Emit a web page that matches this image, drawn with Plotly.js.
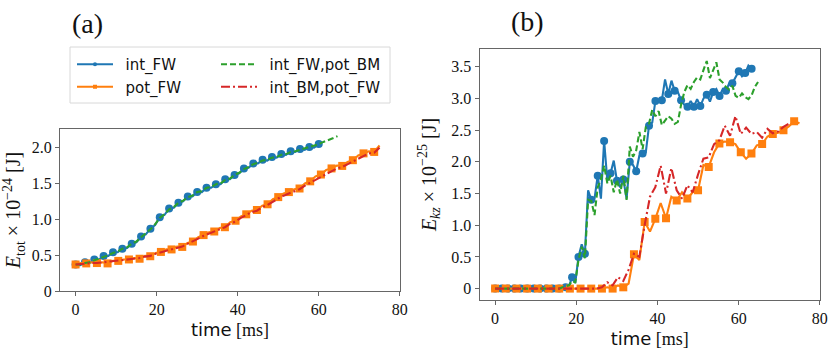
<!DOCTYPE html>
<html>
<head>
<meta charset="utf-8">
<script src="https://cdn.plot.ly/plotly-3.0.1.min.js"></script>
<style>
  body { margin: 0; background: #fff; }
  #chart { width: 830px; height: 349px; }
</style>
</head>
<body>
<div id="chart"></div>
<script>
// time grids [ms]
const tInt = [0, 1.15, 2.31, 3.46, 4.62, 5.77, 6.92, 8.08, 9.23, 10.38, 11.54, 12.69, 13.85, 15.0, 16.15, 17.31, 18.46, 19.62, 20.77, 21.92, 23.08, 24.23, 25.38, 26.54, 27.69, 28.85, 30.0, 31.15, 32.31, 33.46, 34.62, 35.77, 36.92, 38.08, 39.23, 40.38, 41.54, 42.69, 43.85, 45.0, 46.15, 47.31, 48.46, 49.62, 50.77, 51.92, 53.08, 54.23, 55.38, 56.54, 57.69, 58.85, 60.0, 61.15, 62.31, 63.46, 64.62];
const tPot = [0, 1.32, 2.63, 3.95, 5.26, 6.58, 7.89, 9.21, 10.53, 11.84, 13.16, 14.47, 15.79, 17.11, 18.42, 19.74, 21.05, 22.37, 23.68, 25.0, 26.32, 27.63, 28.95, 30.26, 31.58, 32.89, 34.21, 35.53, 36.84, 38.16, 39.47, 40.79, 42.11, 43.42, 44.74, 46.05, 47.37, 48.68, 50.0, 51.32, 52.63, 53.95, 55.26, 56.58, 57.89, 59.21, 60.53, 61.84, 63.16, 64.47, 65.79, 67.11, 68.42, 69.74, 71.05, 72.37, 73.68, 75.0];
const tKz = [0, 0.79, 1.58, 2.37, 3.16, 3.95, 4.74, 5.53, 6.32, 7.11, 7.9, 8.69, 9.48, 10.27, 11.06, 11.85, 12.64, 13.43, 14.22, 15.01, 15.8, 16.59, 17.38, 18.17, 18.96, 19.75, 20.54, 21.33, 22.12, 22.91, 23.7, 24.49, 25.28, 26.07, 26.86, 27.65, 28.44, 29.23, 30.02, 30.81, 31.6, 32.39, 33.18, 33.97, 34.76, 35.55, 36.34, 37.13, 37.92, 38.71, 39.5, 40.29, 41.08, 41.87, 42.66, 43.45, 44.24, 45.03, 45.82, 46.61, 47.4, 48.19, 48.98, 49.77, 50.56, 51.35, 52.14, 52.93, 53.72, 54.51, 55.3, 56.09, 56.88, 57.67, 58.46, 59.25, 60.04, 60.83, 61.62, 62.41, 63.2, 63.99, 64.78];

// (a) E_tot x 1e-24 J
const etotIntFW = [0.37, 0.36, 0.40, 0.39, 0.44, 0.44, 0.49, 0.49, 0.54, 0.54, 0.59, 0.60, 0.66, 0.68, 0.76, 0.79, 0.87, 0.92, 1.03, 1.06, 1.15, 1.16, 1.23, 1.25, 1.32, 1.32, 1.38, 1.38, 1.44, 1.44, 1.49, 1.49, 1.56, 1.56, 1.62, 1.64, 1.71, 1.72, 1.78, 1.78, 1.83, 1.82, 1.87, 1.86, 1.91, 1.90, 1.95, 1.94, 1.98, 1.97, 2.01, 2.00, 2.05];
const etotPotFW = [0.37, 0.39, 0.385, 0.40, 0.39, 0.40, 0.385, 0.42, 0.42, 0.44, 0.44, 0.46, 0.45, 0.49, 0.485, 0.53, 0.545, 0.58, 0.58, 0.62, 0.615, 0.67, 0.69, 0.75, 0.78, 0.82, 0.83, 0.88, 0.89, 0.96, 0.98, 1.04, 1.07, 1.12, 1.13, 1.19, 1.21, 1.28, 1.31, 1.36, 1.38, 1.42, 1.43, 1.50, 1.53, 1.60, 1.625, 1.69, 1.71, 1.75, 1.745, 1.80, 1.825, 1.89, 1.92, 1.95, 1.94, 2.03];
const etotIntFWPotBM = [0.37, 0.37, 0.39, 0.40, 0.43, 0.45, 0.48, 0.50, 0.53, 0.55, 0.59, 0.61, 0.66, 0.69, 0.75, 0.80, 0.86, 0.93, 1.02, 1.07, 1.14, 1.17, 1.23, 1.26, 1.31, 1.33, 1.38, 1.39, 1.44, 1.45, 1.49, 1.50, 1.55, 1.57, 1.62, 1.65, 1.70, 1.73, 1.77, 1.79, 1.82, 1.83, 1.86, 1.87, 1.90, 1.91, 1.94, 1.95, 1.97, 1.98, 2.01, 2.02, 2.05, 2.08, 2.10, 2.13, 2.16];
const etotIntBMPotFW = [0.37, 0.38, 0.38, 0.39, 0.39, 0.40, 0.40, 0.41, 0.42, 0.43, 0.44, 0.45, 0.46, 0.48, 0.49, 0.52, 0.54, 0.56, 0.58, 0.61, 0.62, 0.66, 0.69, 0.73, 0.77, 0.80, 0.83, 0.86, 0.89, 0.94, 0.97, 1.02, 1.06, 1.10, 1.12, 1.17, 1.20, 1.25, 1.29, 1.33, 1.36, 1.39, 1.42, 1.47, 1.51, 1.56, 1.60, 1.64, 1.68, 1.71, 1.73, 1.77, 1.80, 1.85, 1.89, 1.92, 1.93, 2.00];

// (b) E_kz x 1e-25 J
const ekzIntFW = [0, 0, 0, 0, 0, 0, 0, 0, 0, 0, 0, 0, 0, 0, 0, 0, 0, 0, 0, 0, 0, 0.01, 0.02, 0.03, 0.18, 0.09, 0.50, 0.70, 0.55, 1.55, 1.40, 1.42, 1.78, 1.42, 2.33, 1.70, 1.82, 2.02, 1.70, 1.60, 1.72, 1.42, 2.00, 1.95, 1.85, 2.10, 2.13, 2.15, 2.57, 2.62, 2.96, 2.95, 2.97, 3.30, 3.07, 3.28, 3.12, 3.10, 2.97, 2.90, 2.87, 2.96, 2.87, 2.99, 2.88, 3.00, 3.06, 2.95, 3.10, 3.15, 3.04, 3.15, 3.12, 3.24, 3.24, 3.33, 3.43, 3.35, 3.40, 3.52, 3.47];
const ekzPotFW = [0, 0, 0, 0, 0, 0, 0, 0, 0, 0, 0, 0, 0, 0, 0, 0, 0, 0, 0, 0, 0, 0.02, 0.0, 0.05, 0.02, 0.08, 0.54, 0.45, 1.05, 0.90, 1.10, 1.35, 1.11, 1.45, 1.39, 1.52, 1.42, 1.52, 1.55, 1.95, 1.92, 2.15, 2.29, 2.32, 2.31, 2.28, 2.15, 2.05, 2.13, 2.26, 2.28, 2.40, 2.44, 2.46, 2.50, 2.56, 2.64, 2.61];
const ekzIntFWPotBM = [0, 0, 0, 0, 0, 0, 0, 0, 0, 0, 0, 0, 0, 0, 0, 0, 0, 0, 0, 0, 0, 0.02, 0.03, 0.05, 0.12, 0.10, 0.45, 0.66, 0.48, 1.40, 1.38, 1.16, 1.60, 1.72, 1.94, 1.66, 1.78, 1.52, 1.72, 1.50, 1.78, 1.40, 2.24, 2.08, 2.18, 2.47, 2.20, 2.55, 2.60, 2.82, 2.72, 2.80, 2.58, 2.66, 2.72, 2.68, 2.60, 2.63, 2.90, 3.10, 3.21, 3.15, 3.26, 3.33, 3.30, 3.45, 3.59, 3.32, 3.46, 3.57, 3.30, 3.25, 3.18, 3.14, 3.20, 3.04, 3.01, 3.08, 3.02, 2.99, 3.05, 3.18, 3.26];
const ekzIntBMPotFW = [0, 0, 0, 0, 0, 0, 0, 0, 0, 0, 0, 0, 0, 0, 0, 0, 0, 0, 0, 0, 0.02, 0.10, 0.05, 0.18, 0.12, 0.30, 0.55, 0.50, 1.00, 1.45, 1.60, 1.94, 1.50, 1.90, 1.55, 1.42, 1.63, 1.52, 1.80, 2.05, 2.07, 2.28, 2.34, 2.57, 2.41, 2.72, 2.44, 2.54, 2.44, 2.47, 2.38, 2.52, 2.45, 2.48, 2.55, 2.60];

const xTicks = [0, 20, 40, 60, 80];
const yTicksA = [0, 0.5, 1, 1.5, 2];
const yTickTextA = ['0', '0.5', '1.0', '1.5', '2.0'];
const yTicksB = [0, 0.5, 1, 1.5, 2, 2.5, 3, 3.5];
const yTickTextB = ['0', '0.5', '1.0', '1.5', '2.0', '2.5', '3.0', '3.5'];

const W = 830, H = 349;
const px = v => v / W;
const py = v => 1 - v / H;

// markers only on every other sample, like markevery
function markerSizes(n, size) {
  return Array.from({ length: n }, (_, i) => (i % 2 === 0 ? size : 0));
}

function trace(t, y, name, color, opts) {
  const tr = {
    x: t.slice(0, y.length),
    y: y,
    name: '\u2002' + name,
    legendgroup: name,
    type: 'scatter',
    mode: opts.symbol ? 'lines+markers' : 'lines',
    line: { color: color, width: 2.1, dash: opts.dash || 'solid' },
    xaxis: opts.panel === 'b' ? 'x2' : 'x',
    yaxis: opts.panel === 'b' ? 'y2' : 'y',
    showlegend: opts.panel !== 'b',
    legend: opts.legend || 'legend',
    hoverinfo: 'skip',
  };
  if (opts.symbol) {
    tr.marker = {
      symbol: opts.symbol, color: color, opacity: 1,
      size: markerSizes(y.length, 8), line: { width: 0 },
    };
  }
  return tr;
}

const blue = '#1f77b4', orange = '#ff7f0e', green = '#2ca02c', red = '#d62728';
const dashed = '6px,3px';
const dashdot = '9px,3px,2px,3px';

const data = [
  trace(tInt, etotIntFW, 'int_FW', blue, { symbol: 'circle' }),
  trace(tPot, etotPotFW, 'pot_FW', orange, { symbol: 'square' }),
  trace(tInt, etotIntFWPotBM, 'int_FW,pot_BM', green, { dash: dashed, legend: 'legend2' }),
  trace(tPot, etotIntBMPotFW, 'int_BM,pot_FW', red, { dash: dashdot, legend: 'legend2' }),
  trace(tKz, ekzIntFW, 'int_FW', blue, { symbol: 'circle', panel: 'b' }),
  trace(tPot, ekzPotFW, 'pot_FW', orange, { symbol: 'square', panel: 'b' }),
  trace(tKz, ekzIntFWPotBM, 'int_FW,pot_BM', green, { dash: dashed, panel: 'b' }),
  trace(tPot, ekzIntBMPotFW, 'int_BM,pot_FW', red, { dash: dashdot, panel: 'b' }),
];

const serif = 'Liberation Serif';
const tickFont = { family: serif, size: 16, color: '#111' };
const axisBase = {
  showline: true, mirror: true, linecolor: '#666', linewidth: 1,
  ticks: 'outside', ticklen: 4, tickcolor: '#666',
  showgrid: false, zeroline: false, tickfont: tickFont,
};
const xTitle = {
  text: '<span style="font-family:DejaVu Sans">time</span> [ms]',
  font: { family: serif, size: 18, color: '#111' },
  standoff: 6,
};
const legendBase = {
  xanchor: 'left', yanchor: 'top', bgcolor: 'rgba(0,0,0,0)',
  font: { family: 'DejaVu Sans', size: 15, color: '#111' },
  itemwidth: 36, tracegroupgap: 0,
};

const layout = {
  width: W, height: H,
  font: { family: serif, size: 16, color: '#111' },
  margin: { l: 0, r: 0, t: 0, b: 0 },
  paper_bgcolor: '#fff', plot_bgcolor: '#fff',
  xaxis: Object.assign({}, axisBase, {
    domain: [px(60), px(400)], anchor: 'y', range: [-3.85, 80.05],
    tickvals: xTicks, title: xTitle,
  }),
  yaxis: Object.assign({}, axisBase, {
    domain: [py(291), py(129)], anchor: 'x', range: [0, 2.26],
    tickvals: yTicksA, ticktext: yTickTextA,
    title: {
      text: '<i>E</i><sub>tot</sub> × 10<sup>−24</sup> [J]',
      font: { family: serif, size: 20, color: '#111' }, standoff: 7,
    },
  }),
  xaxis2: Object.assign({}, axisBase, {
    domain: [px(479.5), px(820)], anchor: 'y2', range: [-3.85, 80.05],
    tickvals: xTicks, title: xTitle,
  }),
  yaxis2: Object.assign({}, axisBase, {
    domain: [py(300), py(49)], anchor: 'x2', range: [-0.18, 3.78],
    tickvals: yTicksB, ticktext: yTickTextB,
    title: {
      text: '<i>E</i><sub><i>kz</i></sub> × 10<sup>−25</sup> [J]',
      font: { family: serif, size: 20, color: '#111' }, standoff: 9,
    },
  }),
  legend: Object.assign({}, legendBase, { x: px(72), y: py(48) }),
  legend2: Object.assign({}, legendBase, { x: px(216), y: py(48) }),
  shapes: [{
    type: 'rect', xref: 'paper', yref: 'paper',
    x0: px(70), x1: px(390), y0: py(103), y1: py(47),
    line: { color: '#d8d8d8', width: 1 }, layer: 'below',
  }],
  annotations: [
    { text: '(a)', x: px(87), y: py(24), xref: 'paper', yref: 'paper', showarrow: false,
      xanchor: 'center', yanchor: 'middle', font: { family: serif, size: 28, color: '#111' } },
    { text: '(b)', x: px(527), y: py(22), xref: 'paper', yref: 'paper', showarrow: false,
      xanchor: 'center', yanchor: 'middle', font: { family: serif, size: 28, color: '#111' } },
  ],
};

window.Plotly.newPlot('chart', data, layout, { displayModeBar: false, staticPlot: true });
</script>
</body>
</html>
